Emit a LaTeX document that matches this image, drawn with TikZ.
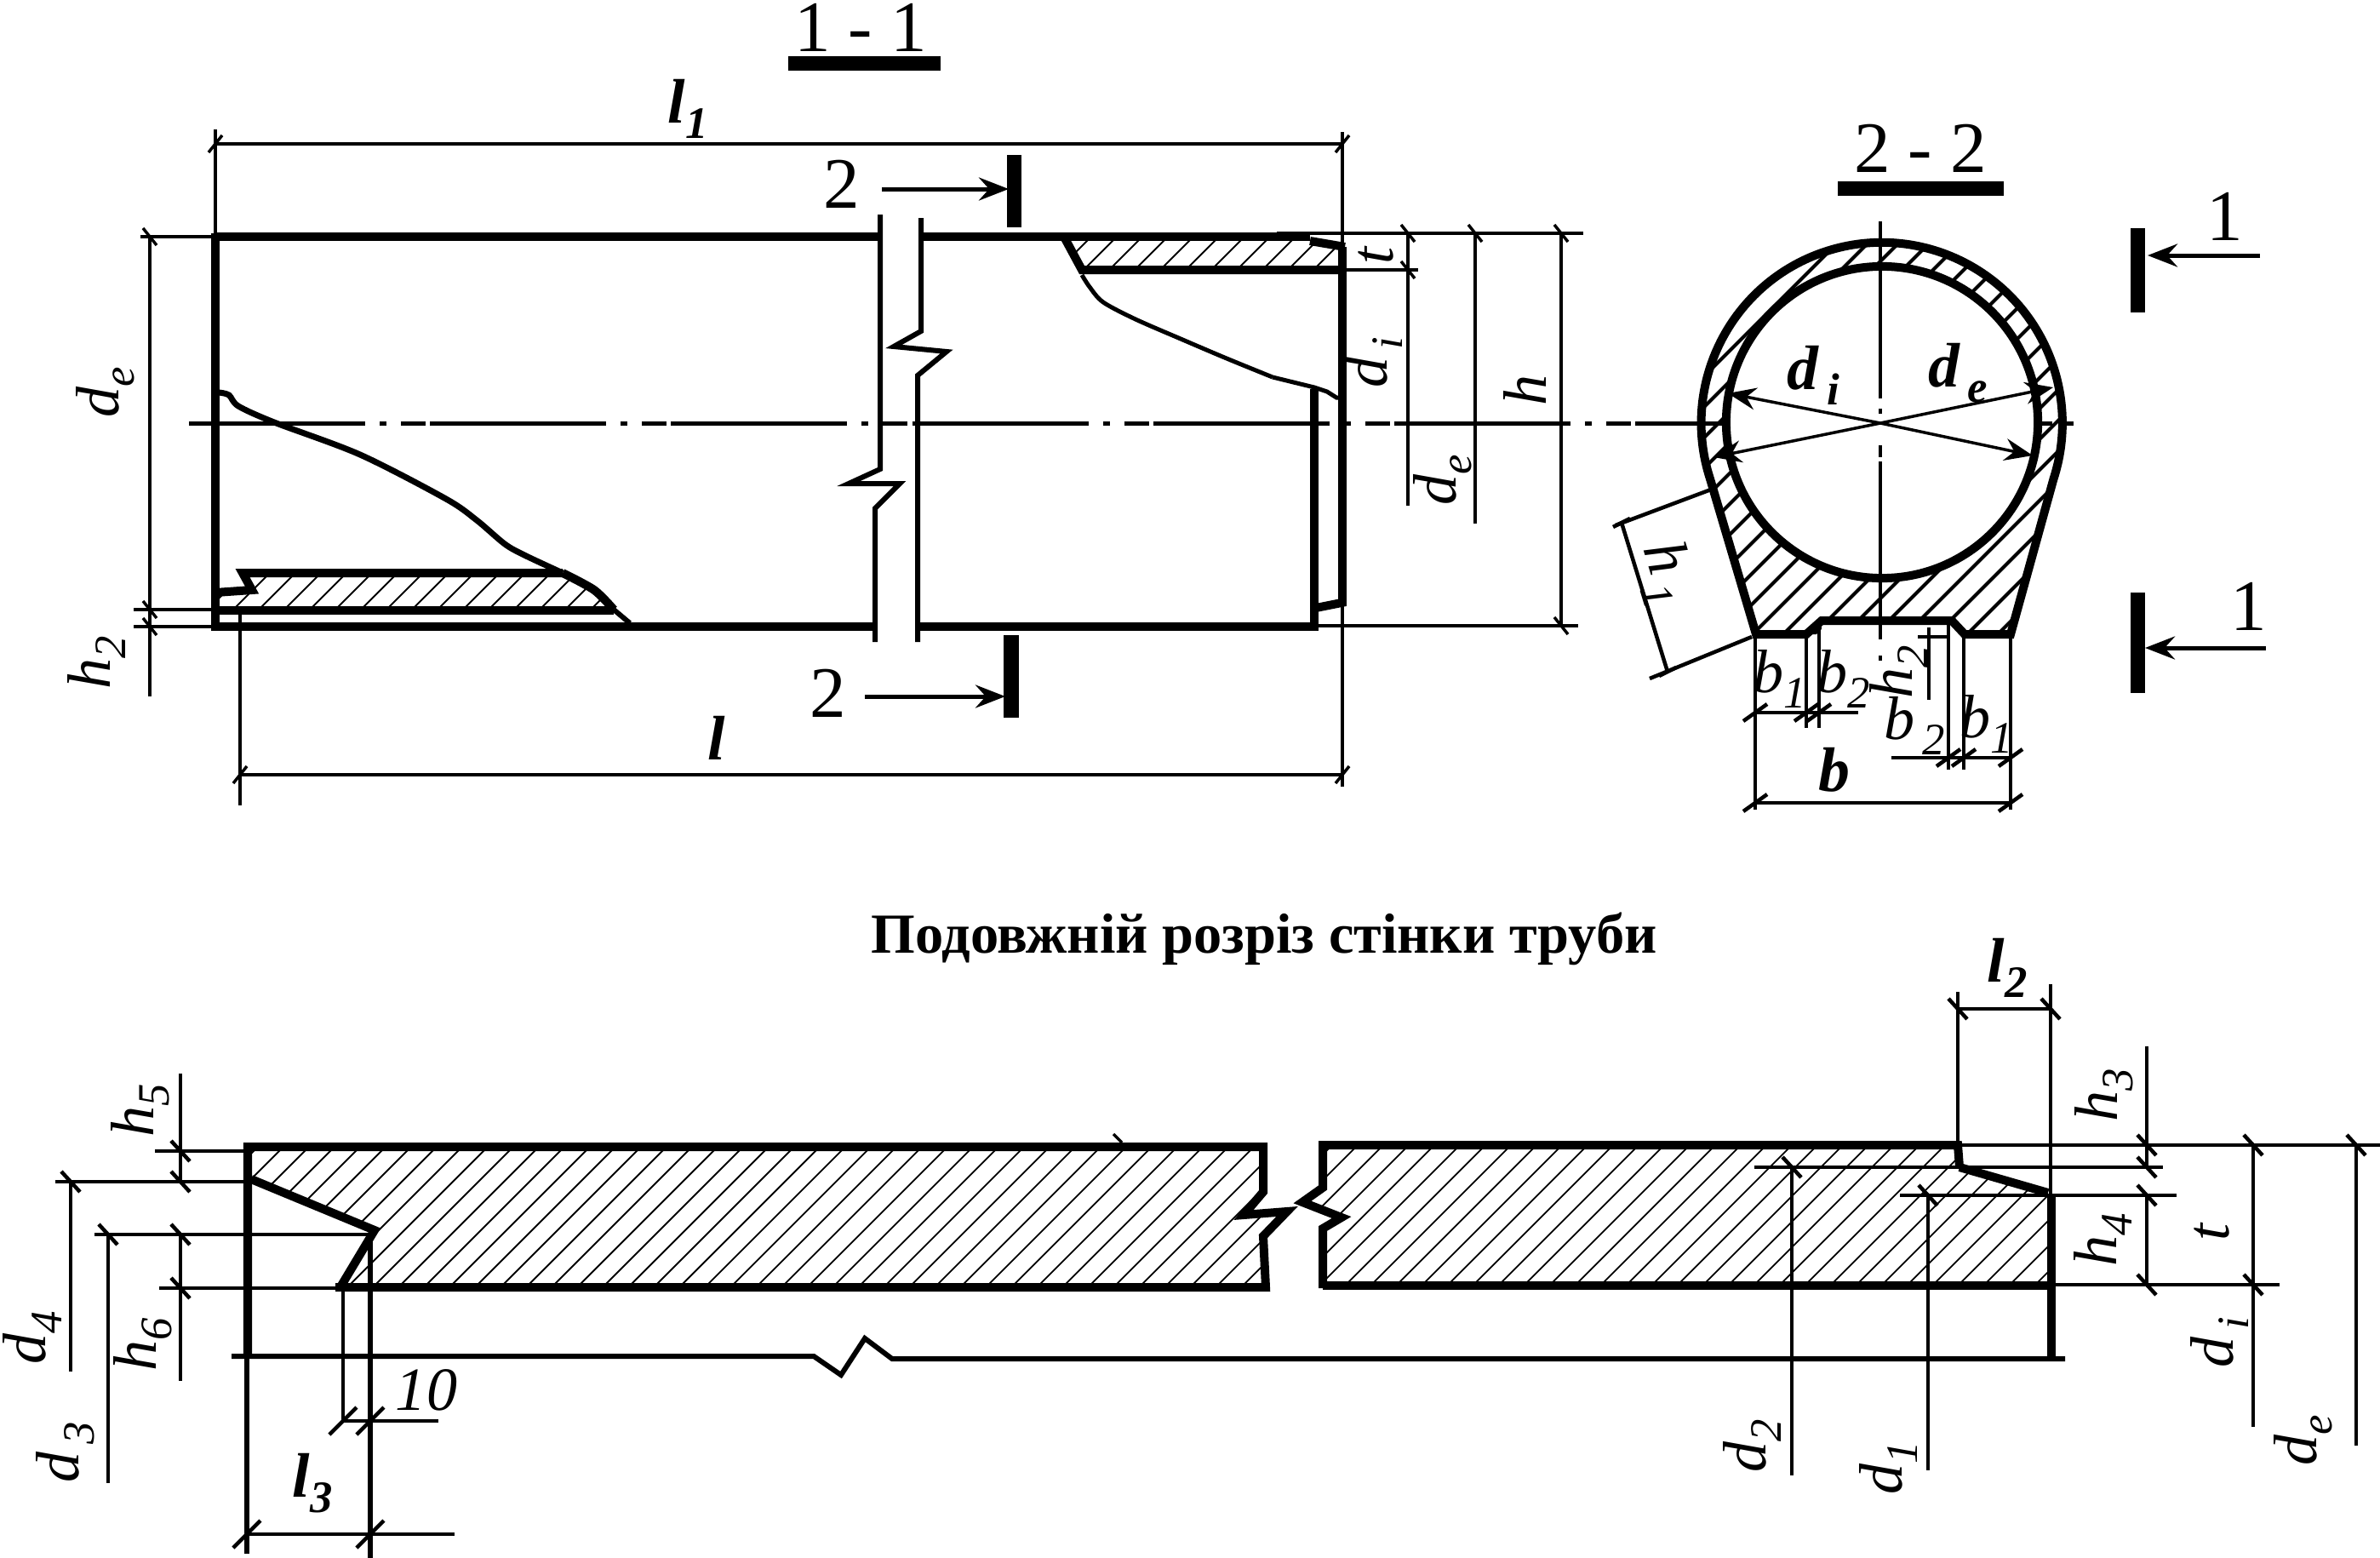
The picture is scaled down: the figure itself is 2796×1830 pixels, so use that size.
\documentclass[tikz,border=0pt]{standalone}
\usepackage{fontspec}
\setmainfont{Liberation Serif}
\usetikzlibrary{arrows.meta}

\newcommand{\lab}[2]{\textit{#1}\raisebox{-.25em}{\fontsize{15}{16}\selectfont\textit{#2}}}
\newcommand{\blab}[2]{\textbf{\textit{#1}}\raisebox{-.25em}{\fontsize{15}{16}\selectfont\textbf{\textit{#2}}}}

\begin{document}
\begin{tikzpicture}[x=0.01cm, y=-0.01cm,
    outline/.style={line width=0.1cm, line join=miter},
    midline/.style={line width=0.06cm, line join=miter},
    dimline/.style={line width=0.045cm},
    fineline/.style={line width=0.035cm},
    hatchline/.style={line width=0.018cm},
    sechatch/.style={line width=0.04cm},
    axisline/.style={line width=0.05cm, dash pattern=on 2.07cm off .17cm on .08cm off .17cm on .29cm off .05cm},
    secarrow/.style={line width=0.05cm, -{Stealth[length=0.35cm, width=0.27cm, inset=0.12cm]}},
    diaarrow/.style={line width=0.035cm, -{Stealth[length=0.33cm, width=0.26cm, inset=0.11cm]}},
    dimtext/.style={inner sep=0pt, font=\fontsize{20.5}{22}\selectfont},
    secnum/.style={inner sep=0pt, font=\fontsize{24.2}{26}\selectfont},
    boldtext/.style={inner sep=0pt, font=\fontsize{21}{23}\selectfont}]
\useasboundingbox (0,0) rectangle (2796,1830);

% titles
\path (1011,32) node[secnum] (title_a) {1 - 1};
\fill (926,66) rectangle (1105,83);
\path (2256,174) node[secnum] (title_b) {2 - 2};
\fill (2159,213) rectangle (2354,230);
\path (1485,1103) node[inner sep=0pt, font=\fontsize{18.9}{21}\selectfont\bfseries] (title_c) {Подовжній розріз стінки труби};

% hatching of the side view
\begin{scope}
\clip (296,693) -- (285,673) -- (661,673) -- (721,716) -- (253,716) -- (253,696) -- cycle;
\foreach \hx in {900,930,...,1500} \draw[hatchline] (\hx,0) -- +(-1000,1000);
\end{scope}
\begin{scope}
\clip (1251,280) -- (1539,280) -- (1577,290) -- (1577,317) -- (1271,317) -- cycle;
\foreach \hx in {1500,1530,...,1950} \draw[hatchline] (\hx,0) -- +(-1000,1000);
\end{scope}

% side view
\draw[outline] (253,278) -- (1034,278);
\draw[outline] (1082,278) -- (1539,278);
\draw[outline] (253,736) -- (1028,736);
\draw[outline] (1078,736) -- (1544,736);
\draw[outline] (253,274) -- (253,741);
\draw[outline] (1577,290) -- (1577,712);
\draw[outline] (1544,457) -- (1544,741);
\draw[outline] (1539,283) -- (1580,290);
\draw[outline] (1546,714) -- (1581,707);
\draw[outline] (1251,280) -- (1271,317) -- (1577,317);
\draw[outline] (253,696) -- (296,693) -- (285,673) -- (661,673);
\draw[outline] (253,717) -- (721,717);
\draw[midline] (1034,252) -- (1034,551) -- (997,568) -- (1057,568) -- (1028,597) -- (1028,754);
\draw[midline] (1082,256) -- (1082,389) -- (1050,407) -- (1112,413) -- (1078,441) -- (1078,754);
\draw[midline, line width=0.07cm] plot[smooth, tension=.5] coordinates {(257,461) (269,464) (280,477) (322,496) (423,534) (524,586) (560,611) (593,639) (616,652) (661,673)};
\draw[outline] plot[smooth, tension=.5] coordinates {(661,673) (698,693) (721,716)};
\draw[midline] (721,716) -- (740,732);
\draw[midline, line width=0.05cm] plot[smooth, tension=.5] coordinates {(1271,323) (1280,337) (1296,355) (1334,375) (1387,398) (1441,421) (1495,443)};
\draw[midline, line width=0.05cm] (1495,443) -- (1544,455) -- (1559,460) -- (1570,467) -- (1577,467);

% axis
\draw[axisline] (222,497) -- (2436,497);

% dimensions of the side view
\draw[dimline] (253,152) -- (253,278);
\draw[dimline] (1577,155) -- (1577,924);
\draw[dimline] (253,169) -- (1577,169);
\draw[dimline] (165,278) -- (253,278);
\draw[dimline] (176,278) -- (176,818);
\draw[dimline] (157,716) -- (248,716);
\draw[dimline] (157,736) -- (248,736);
\draw[dimline] (282,721) -- (282,946);
\draw[dimline] (282,910) -- (1577,910);
\draw[dimline] (1500,274) -- (1860,274);
\draw[dimline] (1544,735) -- (1854,735);
\draw[dimline] (1577,317) -- (1666,317);
\draw[dimline] (1654,274) -- (1654,594);
\draw[dimline] (1733,274) -- (1733,615);
\draw[fineline] (1834,274) -- (1834,735);
\foreach \tx/\ty in {1654/274, 1733/274, 1834/274, 1654/317, 1834/735, 176/278, 176/716, 176/736}
  \draw[fineline] (\tx,\ty) +(-8,-10) -- +(8,10);
\foreach \tx/\ty in {253/169, 1577/169, 282/910, 1577/910}
  \draw[fineline] (\tx,\ty) +(-8,10) -- +(8,-10);

\path (808,128) node[boldtext] (len_one) {\blab{l}{1}};
\path (842,867) node[boldtext] (len_all) {\textbf{\textit{l}}};
\path (124,461) node[dimtext, rotate=90] (de_left) {\lab{d}{e}};
\path (113,778) node[dimtext, rotate=90] (h_two_left) {\lab{h}{2}};
\path (1617,300) node[dimtext, rotate=90] (t_top) {\textit{t}};
\path (1613,426) node[dimtext, rotate=90] (di_top) {\lab{d}{\,i}};
\path (1695,564) node[dimtext, rotate=90] (de_top) {\lab{d}{e}};
\path (1791,458) node[dimtext, rotate=90] (h_top) {\textit{h}};

% section marks 2-2
\fill (1183,182) rectangle (1200,267);
\fill (1179,746) rectangle (1197,843);
\coordinate (mark_a) at (1036,222);
\coordinate (mark_b) at (1016,818);
\draw[secarrow] (mark_a) -- (1185,222);
\draw[secarrow] (mark_b) -- (1181,818);
\path (989,216) node[secnum] (two_top) {2};
\path (973,814) node[secnum] (two_bot) {2};

% section 2-2
\begin{scope}
\clip (2063,745) -- (2009,562.5) arc[start angle=198, end angle=-18, radius=2.12cm] -- (2362,745) -- cycle;
\foreach \hx in {2300,2336,...,3300} \draw[sechatch] (\hx,0) -- +(-1000,1000);
\end{scope}
\fill[white] (2211,496) circle[radius=1.83cm];
\fill[white] (2140,729) rectangle (2293,760);
\draw[outline] (2063,745) -- (2009,562.5) arc[start angle=198, end angle=-18, radius=2.12cm] -- (2362,745) -- (2308,745) -- (2293,729) -- (2140,729) -- (2122,745) -- cycle;
\draw[outline] (2211,496) circle[radius=1.83cm];
\foreach \ya/\yb in {260/468, 480/486, 523/537, 542/751, 770/776}
  \draw[dimline] (2209,\ya) -- (2209,\yb);
\coordinate (mid) at (2209,497);
\draw[diaarrow] (mid) -- (2030,462);
\draw[diaarrow] (mid) -- (2013,537);
\draw[diaarrow] (mid) -- (2412,455);
\draw[diaarrow] (mid) -- (2388,535);
\path (2130,441) node[boldtext] (di_sec) {\blab{d}{\,i}};
\path (2300,438) node[boldtext] (de_sec) {\blab{d}{\,e}};

% dimensions of section 2-2
\draw[dimline] (2010,575) -- (1898,617);
\draw[dimline] (2058,748) -- (1938,797);
\draw[dimline] (1905,614) -- (1959,789);
\foreach \tx/\ty in {1905/614, 1959/789} \draw[dimline] (\tx,\ty) +(-10,5) -- +(10,-5);
\path (1956,674) node[dimtext, rotate=-73] (h_one) {\lab{h}{\,1}};
\draw[dimline] (2062,745) -- (2062,951);
\draw[dimline] (2362,745) -- (2362,951);
\draw[dimline] (2062,943) -- (2362,943);
\draw[dimline] (2122,745) -- (2122,855);
\draw[dimline] (2137,729) -- (2137,855);
\draw[dimline] (2062,837) -- (2183,837);
\draw[dimline] (2289,729) -- (2289,904);
\draw[dimline] (2307,745) -- (2307,904);
\draw[dimline] (2222,890) -- (2362,890);
\draw[dimline] (2266,737) -- (2266,822);
\draw[dimline] (2253,748) -- (2289,748);
\foreach \tx/\ty in {2062/943, 2362/943, 2062/837, 2122/837, 2137/837, 2289/890, 2307/890, 2362/890}
  \draw[dimline] (\tx,\ty) +(-14,10) -- +(14,-10);
\path (2091,797) node[dimtext] (b_one_a) {\lab{b}{1}};
\path (2166,797) node[dimtext] (b_two_a) {\lab{b}{2}};
\path (2249,852) node[dimtext] (b_two_b) {\lab{b}{\,2}};
\path (2334,850) node[dimtext] (b_one_b) {\lab{b}{1}};
\path (2155,904) node[boldtext] (b_all) {\textbf{\textit{b}}};
\path (2230,789) node[dimtext, rotate=90] (h_two_sec) {\lab{h}{2}};

% section marks 1-1
\fill (2503,268) rectangle (2520,367);
\fill (2503,696) rectangle (2520,814);
\coordinate (mark_c) at (2655,300);
\coordinate (mark_d) at (2662,761);
\draw[secarrow] (mark_c) -- (2523,300);
\draw[secarrow] (mark_d) -- (2520,761);
\path (2614,254) node[secnum] (one_top) {1};
\path (2642,712) node[secnum] (one_bot) {1};

% wall section, hatching
\begin{scope}
\clip (291,1347) -- (1484,1347) -- (1484,1400) -- (1461,1427) -- (1512,1423) -- (1484,1452) -- (1487,1512) -- (398,1512) -- (432,1451) -- (440,1445) -- (295,1385) -- cycle;
\foreach \hx in {1650,1680,...,3100} \draw[hatchline] (\hx,0) -- +(-1600,1600);
\end{scope}
\begin{scope}
\clip (1554,1347) -- (2300,1347) -- (2302,1371) -- (2406,1401) -- (2410,1510) -- (1554,1510) -- (1554,1443) -- (1576,1430) -- (1530,1412) -- (1554,1395) -- cycle;
\foreach \hx in {2880,2910,...,3920} \draw[hatchline] (\hx,0) -- +(-1600,1600);
\end{scope}

% wall section, outline
\draw[outline] (291,1592) -- (291,1347) -- (1484,1347) -- (1484,1400) -- (1461,1427) -- (1512,1423) -- (1484,1452) -- (1487,1512) -- (394,1512);
\draw[outline] (295,1385) -- (440,1445) -- (398,1515);
\draw[outline] (1554,1513) -- (1554,1443) -- (1576,1430) -- (1530,1412) -- (1554,1395) -- (1554,1345) -- (2300,1345) -- (2302,1371);
\draw[outline] (2302,1371) -- (2406,1401);
\draw[outline] (1554,1510) -- (2410,1510);
\draw[outline] (2410,1404) -- (2410,1594);
\draw[midline] (272,1593) -- (956,1593) -- (988,1615) -- (1016,1572) -- (1048,1596) -- (2426,1596);
\draw[fineline] (1308,1332) -- (1318,1342);

% dimensions of the wall section
\draw[dimline] (182,1352) -- (291,1352);
\draw[dimline] (65,1388) -- (291,1388);
\draw[dimline] (111,1450) -- (432,1450);
\draw[dimline] (187,1513) -- (394,1513);
\draw[dimline] (212,1261) -- (212,1388);
\draw[dimline] (212,1450) -- (212,1622);
\draw[dimline] (83,1388) -- (83,1611);
\draw[dimline] (127,1450) -- (127,1742);
\draw[dimline] (403,1513) -- (403,1669);
\draw[midline] (435,1451) -- (435,1830);
\draw[midline] (290,1595) -- (290,1825);
\draw[dimline] (403,1669) -- (515,1669);
\draw[dimline] (290,1802) -- (534,1802);
\draw[dimline] (2300,1165) -- (2300,1345);
\draw[dimline] (2409,1156) -- (2409,1404);
\draw[dimline] (2300,1185) -- (2409,1185);
\draw[dimline] (2300,1345) -- (2796,1345);
\draw[dimline] (2061,1371) -- (2541,1371);
\draw[dimline] (2232,1404) -- (2557,1404);
\draw[dimline] (2410,1509) -- (2678,1509);
\draw[dimline] (2105,1371) -- (2105,1733);
\draw[dimline] (2265,1404) -- (2265,1727);
\draw[dimline] (2522,1229) -- (2522,1371);
\draw[dimline] (2522,1404) -- (2522,1509);
\draw[dimline] (2647,1345) -- (2647,1676);
\draw[dimline] (2768,1345) -- (2768,1698);
\foreach \tx/\ty in {212/1352, 212/1388, 212/1450, 212/1513, 83/1388, 127/1450, 2300/1185, 2409/1185, 2522/1345, 2522/1371, 2522/1404, 2522/1509, 2647/1345, 2647/1509, 2768/1345, 2105/1371, 2265/1404}
  \draw[dimline] (\tx,\ty) +(-11,-12) -- +(11,12);
\foreach \tx/\ty in {403/1669, 435/1669, 290/1802, 435/1802}
  \draw[dimline] (\tx,\ty) +(-16,16) -- +(16,-16);

\path (165,1304) node[dimtext, rotate=90] (h_five) {\lab{h}{5}};
\path (168,1579) node[dimtext, rotate=90] (h_six) {\lab{h}{6}};
\path (38,1571) node[dimtext, rotate=90] (d_four) {\lab{d}{4}};
\path (77,1706) node[dimtext, rotate=90] (d_three) {\lab{d}{\,3}};
\path (501,1633) node[dimtext] (ten) {\textit{10}};
\path (367,1742) node[boldtext] (len_three) {\blab{l}{3}};
\path (2358,1137) node[boldtext] (len_two) {\blab{l}{2}};
\path (2472,1286) node[dimtext, rotate=90] (h_three) {\lab{h}{3}};
\path (2470,1456) node[dimtext, rotate=90] (h_four) {\lab{h}{4}};
\path (2599,1447) node[dimtext, rotate=90] (t_wall) {\textit{t}};
\path (2607,1577) node[dimtext, rotate=90] (di_wall) {\lab{d}{\,i}};
\path (2706,1692) node[dimtext, rotate=90] (de_wall) {\lab{d}{e}};
\path (2058,1698) node[dimtext, rotate=90] (d_two) {\lab{d}{2}};
\path (2218,1724) node[dimtext, rotate=90] (d_one) {\lab{d}{1}};
\end{tikzpicture}
\end{document}
